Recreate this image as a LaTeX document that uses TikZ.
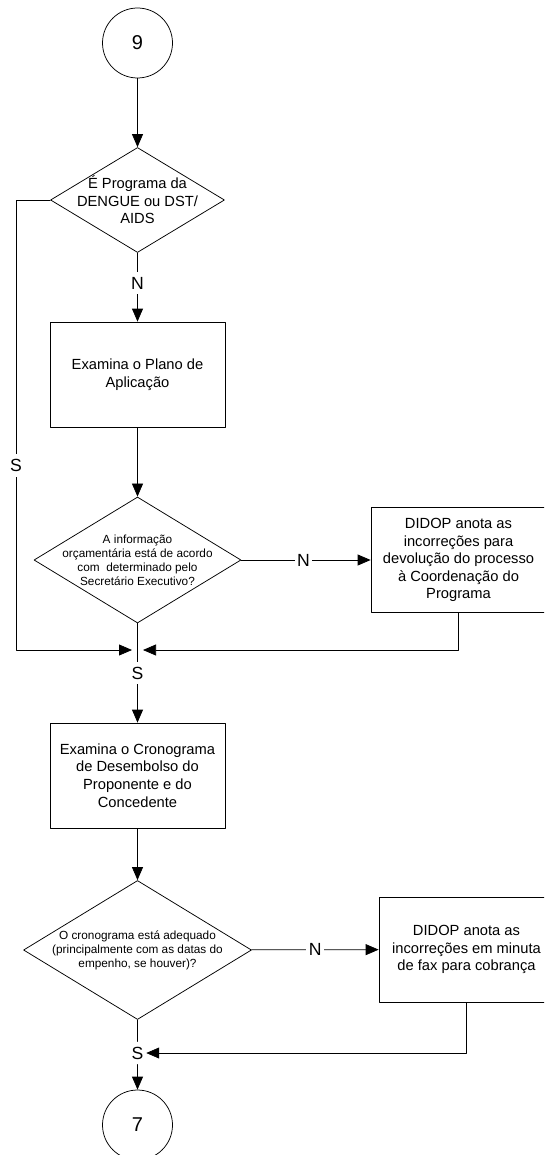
\documentclass[tikz,border=0pt]{standalone}
\usepackage{fontspec}
\setmainfont{Liberation Sans}
\usetikzlibrary{arrows.meta}
\usetikzlibrary{shapes.geometric}

\begin{document}
\begin{tikzpicture}[line cap=round,line join=round,>={Triangle[length=13pt,width=11pt]},x=1pt,y=-1pt,line width=0.75pt,
  proc/.style={draw,rectangle,minimum width=175pt,minimum height=105pt,inner sep=0pt,align=center,font=\fontsize{14.7}{17.6}\selectfont},
  dec/.style={draw,diamond,inner sep=0pt},
  dectext/.style={align=center,inner sep=0pt},
  conn/.style={draw,circle,minimum size=70pt,inner sep=0pt,font=\fontsize{20}{24}\selectfont},
  lab/.style={fill=white,inner xsep=2.5pt,inner ysep=5pt,font=\fontsize{17.6}{20}\selectfont}]
\clip(0,0) rectangle (544,1155);
\node[conn] (c9) at (137.5,43) {9};
\node[dec,minimum width=174pt,minimum height=105pt] (d1) at (137.5,200) {};
\node[dectext,font=\fontsize{14.7}{17.6}\selectfont] (d1t) at (d1) {É Programa da\\DENGUE ou DST/\\AIDS};
\node[proc] (b1) at (137.5,374.5) {Examina o Plano de\\Aplicação};
\node[dec,minimum width=207pt,minimum height=126pt] (d2) at (137.5,560) {};
\node[dectext,font=\fontsize{11.8}{13.9}\selectfont] (d2t) at (d2) {A informação\\orçamentária está de acordo\\com~ determinado pelo\\Secretário Executivo?};
\node[proc] (b2) at (458.5,560) {DIDOP anota as\\incorreções para\\devolução do processo\\à Coordenação do\\Programa};
\coordinate (j1) at (137.5,650);
\coordinate (l1) at (16,200);
\coordinate (l2) at (16,650);
\node[proc] (b3) at (137.5,775.5) {Examina o Cronograma\\de Desembolso do\\Proponente e do\\Concedente};
\node[dec,minimum width=228pt,minimum height=139pt] (d3) at (137.5,950) {};
\node[dectext,font=\fontsize{11.8}{13.9}\selectfont] (d3t) at (d3) {O cronograma está adequado\\(principalmente com as datas do\\empenho, se houver)?};
\node[proc] (b4) at (466.5,949.5) {DIDOP anota as\\incorreções em minuta\\de fax para cobrança};
\node[lab] (s3) at (137.5,1053) {S};
\node[conn] (c7) at (137.5,1125) {7};
\draw[->] (c9) -- (d1);
\draw[->] (d1) -- node[lab,pos=0.44] (n1) {N} (b1);
\draw[->] (b1) -- (d2);
\draw[->] (d2) -- node[lab,pos=0.48] (n2) {N} (b2);
\draw[->] (d2) -- node[lab] (s2) {S} (b3);
\draw[->,shorten >=5.5pt] (d1.west) -- (l1) -- node[lab,pos=0.59] (s1) {S} (l2) -- (j1);
\draw[->,shorten >=5.5pt] (b2) |- (j1);
\draw[->] (b3) -- (d3);
\draw[->] (d3) -- node[lab] (n3) {N} (b4);
\draw (d3) -- (s3);
\draw[->] (s3) -- (c7);
\draw[->] (b4) |- (s3);
\end{tikzpicture}
\end{document}
